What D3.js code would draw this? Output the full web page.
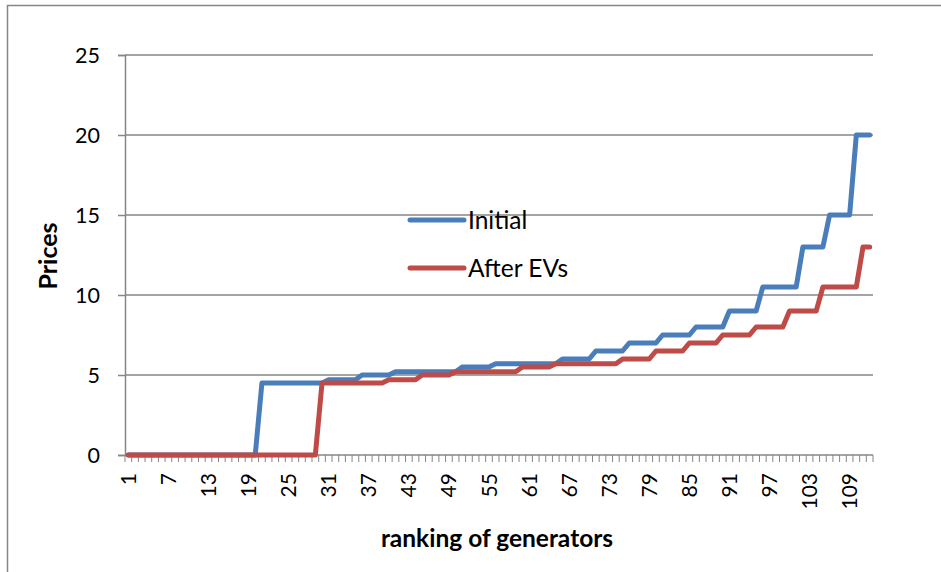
<!DOCTYPE html>
<html>
<head>
<meta charset="utf-8">
<script src="https://cdn.jsdelivr.net/npm/d3@7"></script>
<style>
  body { margin: 0; background: #fff; }
  text { font-family: Lato, "Open Sans", sans-serif; fill: #000; }
</style>
</head>
<body>
<div id="viz"></div>
<script>
// generator ranking 1..112
var ranks = d3.range(1, 113);

var initial = [
  0,0,0,0,0,0,0,0,0,0, 0,0,0,0,0,0,0,0,0,0,
  4.5,4.5,4.5,4.5,4.5,4.5,4.5,4.5,4.5,4.5,
  4.7,4.7,4.7,4.7,4.7, 5,5,5,5,5,
  5.2,5.2,5.2,5.2,5.2,5.2,5.2,5.2,5.2,5.2,
  5.5,5.5,5.5,5.5,5.5,
  5.7,5.7,5.7,5.7,5.7,5.7,5.7,5.7,5.7,5.7,
  6,6,6,6,6, 6.5,6.5,6.5,6.5,6.5, 7,7,7,7,7,
  7.5,7.5,7.5,7.5,7.5, 8,8,8,8,8, 9,9,9,9,9,
  10.5,10.5,10.5,10.5,10.5,10.5,
  13,13,13,13, 15,15,15,15, 20,20,20
];

var afterEVs = [
  0,0,0,0,0,0,0,0,0,0, 0,0,0,0,0,0,0,0,0,0,
  0,0,0,0,0,0,0,0,0,
  4.5,4.5,4.5,4.5,4.5,4.5,4.5,4.5,4.5,4.5,
  4.7,4.7,4.7,4.7,4.7, 5,5,5,5,5,
  5.2,5.2,5.2,5.2,5.2,5.2,5.2,5.2,5.2,5.2,
  5.5,5.5,5.5,5.5,5.5,
  5.7,5.7,5.7,5.7,5.7,5.7,5.7,5.7,5.7,5.7,
  6,6,6,6,6, 6.5,6.5,6.5,6.5,6.5, 7,7,7,7,7,
  7.5,7.5,7.5,7.5,7.5, 8,8,8,8,8, 9,9,9,9,9,
  10.5,10.5,10.5,10.5,10.5,10.5,
  13,13
];

var yTicks = [0, 5, 10, 15, 20, 25];
var xLabels = [1, 7, 13, 19, 25, 31, 37, 43, 49, 55, 61, 67, 73, 79, 85, 91, 97, 103, 109];

var series = [
  { name: 'Initial', values: initial, color: '#4a7ebb' },
  { name: 'After EVs', values: afterEVs, color: '#be4b48' }
];

var width = 941,
    height = 572,
    plotLeft = 125, plotRight = 873,
    plotTop = 55, plotBottom = 455,
    gray = '#868686';

var svg = d3.select('#viz').append('svg')
    .attr('width', width)
    .attr('height', height);

// chart frame (right and bottom edges fall outside the window)
svg.append('rect')
    .attr('x', 7.5).attr('y', 5.5)
    .attr('width', 960).attr('height', 600)
    .attr('fill', 'none')
    .attr('stroke', gray)
    .attr('stroke-width', 1.5);

var xScale = d3.scaleBand()
    .domain(ranks)
    .range([plotLeft, plotRight]);

var yScale = d3.scaleLinear()
    .domain([0, 25])
    .range([plotBottom, plotTop]);

// gridlines
svg.append('g')
    .selectAll('line').data(yTicks.filter(function (d) { return d > 0; }))
    .enter().append('line')
    .attr('x1', plotLeft).attr('x2', plotRight)
    .attr('y1', function (d) { return yScale(d); })
    .attr('y2', function (d) { return yScale(d); })
    .attr('stroke', gray)
    .attr('stroke-width', 1.5);

// y axis
var yAxis = svg.append('g')
    .attr('transform', 'translate(' + plotLeft + ',0)')
    .call(d3.axisLeft(yScale).tickValues(yTicks).tickSize(7).tickPadding(18));
yAxis.select('.domain').attr('stroke', gray).attr('stroke-width', 1.5);
yAxis.selectAll('.tick line').attr('stroke', gray).attr('stroke-width', 1.5);
yAxis.selectAll('.tick text')
    .style('font-size', '21.5px')
    .attr('dy', '0.36em');

// x axis: tick marks at category boundaries
var xAxis = svg.append('g')
    .attr('transform', 'translate(0,' + plotBottom + ')');
xAxis.append('line')
    .attr('x1', plotLeft).attr('x2', plotRight)
    .attr('stroke', gray).attr('stroke-width', 1.5);
xAxis.selectAll('line.tk').data(d3.range(0, ranks.length + 1))
    .enter().append('line')
    .attr('class', 'tk')
    .attr('x1', function (i) { return plotLeft + i * xScale.bandwidth(); })
    .attr('x2', function (i) { return plotLeft + i * xScale.bandwidth(); })
    .attr('y1', 0).attr('y2', 7)
    .attr('stroke', gray).attr('stroke-width', 1);
xAxis.selectAll('text').data(xLabels)
    .enter().append('text')
    .attr('transform', function (d) {
        return 'translate(' + (xScale(d) + xScale.bandwidth() / 2) + ',18) rotate(-90)';
    })
    .attr('text-anchor', 'end')
    .attr('dy', '0.36em')
    .style('font-size', '21px')
    .text(function (d) { return d; });

// lines
var line = d3.line()
    .x(function (d, i) { return xScale(ranks[i]) + xScale.bandwidth() / 2; })
    .y(function (d) { return yScale(d); });

svg.append('g')
    .selectAll('path').data(series)
    .enter().append('path')
    .attr('d', function (s) { return line(s.values); })
    .attr('fill', 'none')
    .attr('stroke', function (s) { return s.color; })
    .attr('stroke-width', 5)
    .attr('stroke-linejoin', 'round')
    .attr('stroke-linecap', 'round');

// legend
var legend = svg.append('g')
    .selectAll('g').data(series)
    .enter().append('g')
    .attr('transform', function (d, i) { return 'translate(410,' + (220 + i * 48) + ')'; });
legend.append('line')
    .attr('x1', 0).attr('x2', 54)
    .attr('stroke', function (d) { return d.color; })
    .attr('stroke-width', 5)
    .attr('stroke-linecap', 'round');
legend.append('text')
    .attr('x', 58)
    .attr('dy', '0.36em')
    .style('font-size', '24.5px')
    .text(function (d) { return d.name; });

// axis titles
svg.append('text')
    .attr('x', 497).attr('y', 547)
    .attr('text-anchor', 'middle')
    .style('font-size', '24.5px')
    .style('font-weight', 'bold')
    .text('ranking of generators');

svg.append('text')
    .attr('transform', 'translate(57,256) rotate(-90)')
    .attr('text-anchor', 'middle')
    .style('font-size', '25px')
    .style('font-weight', 'bold')
    .text('Prices');
</script>
</body>
</html>
